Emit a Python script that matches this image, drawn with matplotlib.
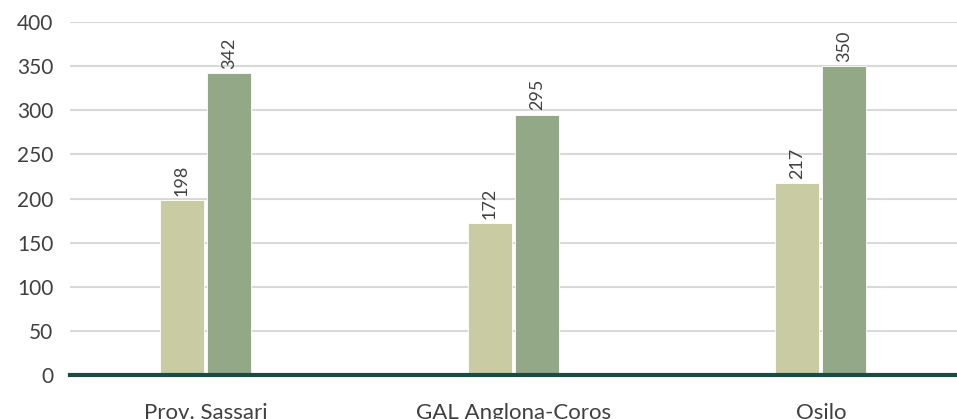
import numpy as np
import matplotlib
matplotlib.use("Agg")
import matplotlib.pyplot as plt

categories = ["Prov. Sassari", "GAL Anglona-Coros", "Osilo"]
serie_a = [198, 172, 217]
serie_b = [342, 295, 350]

plt.rcParams["font.family"] = ["Lato", "DejaVu Sans"]

fig = plt.figure(figsize=(9.57, 4.19), dpi=100)
ax = fig.add_axes([70 / 957, 44 / 419, 887 / 957, 353 / 419])

x = np.arange(len(categories))
w = 0.143
bars_a = ax.bar(x - 0.078, serie_a, width=w, color="#C9CBA3", edgecolor="white", linewidth=0.6, zorder=3)
bars_b = ax.bar(x + 0.076, serie_b, width=w, color="#93A886", edgecolor="white", linewidth=0.6, zorder=3)

for bars in (bars_a, bars_b):
    for b in bars:
        ax.annotate(f"{b.get_height():.0f}", (b.get_x() + b.get_width() / 2, b.get_height()),
                    xytext=(0, 3), textcoords="offset points", rotation=90,
                    ha="center", va="bottom", fontsize=13, color="#404040")

ax.set_xlim(-0.442, 2.442)
ax.set_ylim(0, 400)
ax.set_yticks(range(0, 401, 50))
ax.set_xticks(x)
ax.set_xticklabels(categories)
ax.tick_params(axis="y", length=0, labelsize=15, colors="#404040", pad=12)
ax.tick_params(axis="x", length=0, labelsize=16, colors="#404040", pad=20)

ax.grid(axis="y", color="#D9D9D9", linewidth=1.5, zorder=0)
for s in ("top", "right", "left"):
    ax.spines[s].set_visible(False)
ax.spines["bottom"].set_color("#1D4A45")
ax.spines["bottom"].set_linewidth(3)
ax.spines["bottom"].set_zorder(4)

fig.savefig("out.png", dpi=100)
